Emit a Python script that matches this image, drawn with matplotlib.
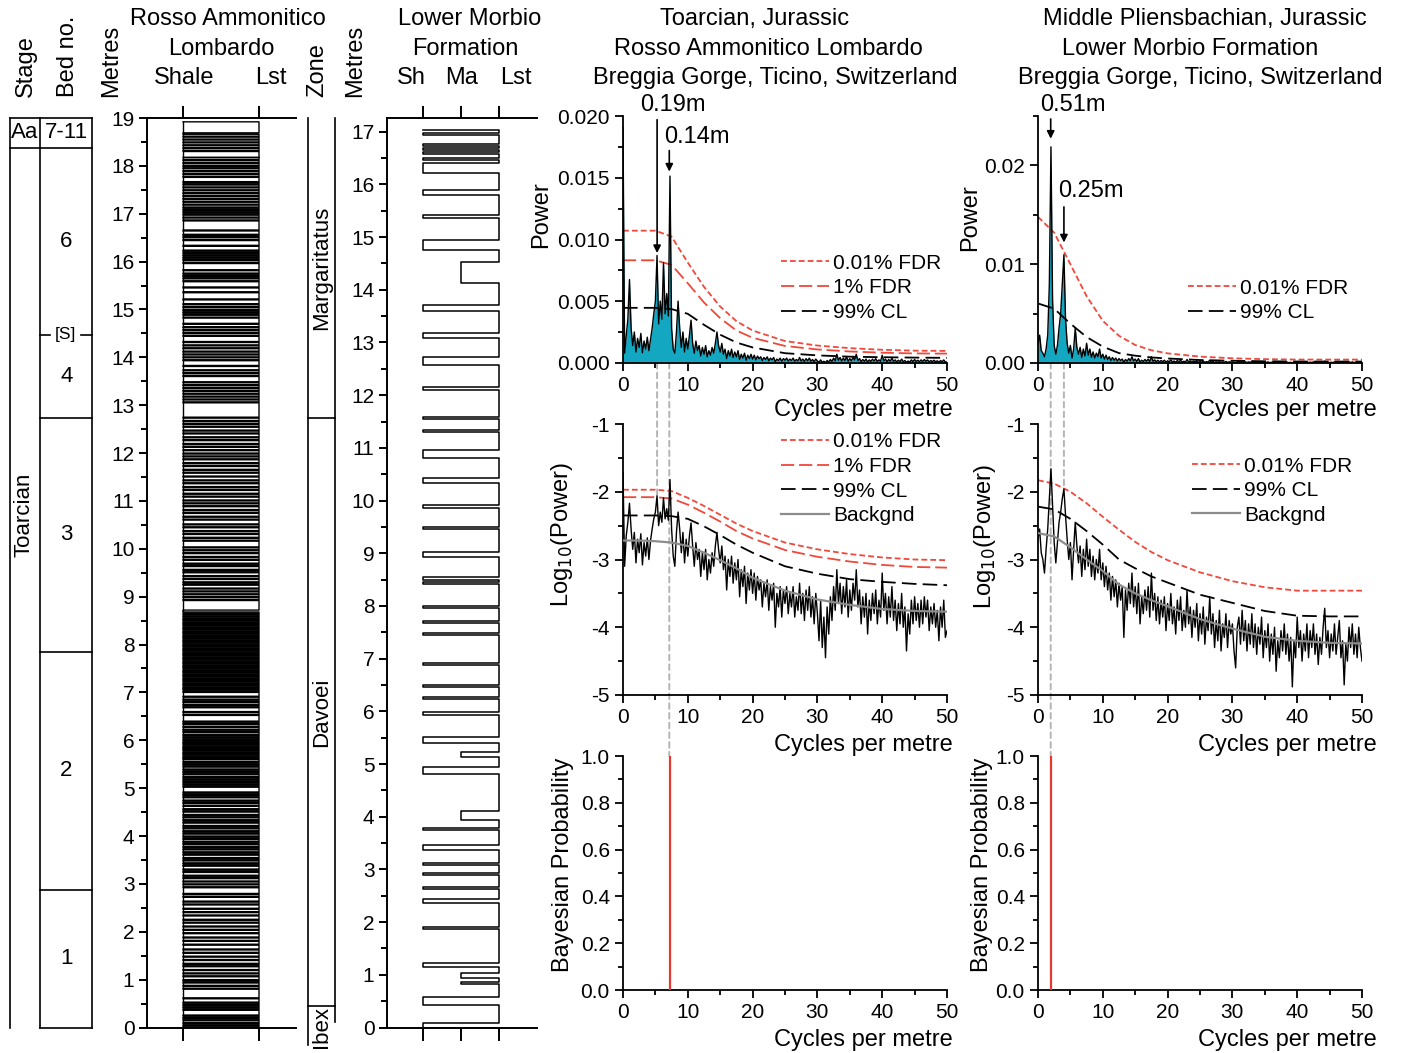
import numpy as np
import matplotlib
matplotlib.use("Agg")
import matplotlib.pyplot as plt
from matplotlib.patches import ConnectionPatch
from matplotlib.ticker import MultipleLocator, FormatStrFormatter

plt.rcParams['font.family'] = ['Liberation Sans', 'DejaVu Sans']
plt.rcParams['axes.unicode_minus'] = False
plt.rcParams['lines.scale_dashes'] = False

# ---------------- data ----------------
# Rosso Ammonitico Lombardo: limestone beds (base, top) in metres, shale in between
ral_beds = [
    (0.00, 0.03), (0.05, 0.08), (0.10, 0.14), (0.16, 0.19), (0.21, 0.24), (0.26, 0.36),
    (0.38, 0.41), (0.43, 0.46), (0.48, 0.51), (0.53, 0.60), (0.62, 0.80), (0.82, 0.86),
    (0.88, 0.93), (0.95, 0.98), (1.00, 1.06), (1.08, 1.12), (1.14, 1.19), (1.21, 1.27),
    (1.29, 1.32), (1.34, 1.40), (1.42, 1.47), (1.49, 1.55), (1.57, 1.62), (1.64, 1.72),
    (1.74, 1.80), (1.82, 1.87), (1.89, 1.96), (1.98, 2.03), (2.05, 2.10), (2.12, 2.18),
    (2.20, 2.24), (2.26, 2.33), (2.35, 2.40), (2.42, 2.47), (2.49, 2.56), (2.58, 2.62),
    (2.64, 2.72), (2.74, 2.78), (2.80, 2.92), (2.94, 2.98), (3.00, 3.04), (3.06, 3.11),
    (3.13, 3.16), (3.18, 3.24), (3.26, 3.29), (3.31, 3.37), (3.39, 3.42), (3.44, 3.48),
    (3.50, 3.53), (3.55, 3.60), (3.62, 3.65), (3.67, 3.71), (3.73, 3.76), (3.78, 3.82),
    (3.84, 3.87), (3.89, 3.93), (3.95, 3.98), (4.00, 4.04), (4.06, 4.09), (4.11, 4.15),
    (4.17, 4.20), (4.22, 4.27), (4.29, 4.32), (4.34, 4.38), (4.40, 4.43), (4.45, 4.50),
    (4.52, 4.55), (4.57, 4.62), (4.64, 4.68), (4.70, 4.73), (4.75, 4.80), (4.82, 4.85),
    (4.87, 4.90), (4.92, 5.02), (5.04, 5.07), (5.09, 5.12), (5.14, 5.17), (5.19, 5.22),
    (5.24, 5.28), (5.30, 5.33), (5.35, 5.38), (5.40, 5.44), (5.46, 5.49), (5.51, 5.54),
    (5.56, 5.60), (5.62, 5.64), (5.66, 5.69), (5.71, 5.73), (5.75, 5.78), (5.80, 5.82),
    (5.84, 5.86), (5.88, 5.91), (5.93, 5.95), (5.97, 6.00), (6.02, 6.05), (6.07, 6.10),
    (6.12, 6.16), (6.18, 6.21), (6.23, 6.27), (6.29, 6.33), (6.35, 6.38), (6.40, 6.52),
    (6.54, 6.58), (6.60, 6.68), (6.70, 6.73), (6.75, 6.79), (6.81, 6.84), (6.86, 6.90),
    (6.92, 7.00), (7.02, 7.05), (7.07, 7.09), (7.11, 7.14), (7.16, 7.18), (7.20, 7.23),
    (7.25, 7.27), (7.29, 7.32), (7.34, 7.36), (7.38, 7.41), (7.43, 7.45), (7.47, 7.50),
    (7.52, 7.54), (7.56, 7.59), (7.61, 7.63), (7.65, 7.68), (7.70, 7.72), (7.74, 7.77),
    (7.79, 7.81), (7.83, 7.86), (7.88, 7.90), (7.92, 7.95), (7.97, 7.99), (8.01, 8.04),
    (8.06, 8.08), (8.10, 8.13), (8.15, 8.17), (8.19, 8.22), (8.24, 8.26), (8.28, 8.31),
    (8.33, 8.35), (8.37, 8.40), (8.42, 8.44), (8.46, 8.49), (8.51, 8.53), (8.55, 8.58),
    (8.60, 8.63), (8.65, 8.68), (8.72, 8.92), (8.94, 8.98), (9.00, 9.04), (9.06, 9.10),
    (9.12, 9.16), (9.18, 9.24), (9.26, 9.29), (9.31, 9.36), (9.38, 9.42), (9.44, 9.50),
    (9.52, 9.55), (9.57, 9.63), (9.65, 9.68), (9.70, 9.76), (9.78, 9.82), (9.84, 9.90),
    (9.92, 9.96), (9.98, 10.02), (10.04, 10.16), (10.18, 10.22), (10.24, 10.30), (10.32, 10.36),
    (10.38, 10.44), (10.46, 10.50), (10.52, 10.60), (10.62, 10.66), (10.68, 10.74), (10.76, 10.80),
    (10.82, 10.88), (10.90, 10.94), (10.96, 11.00), (11.02, 11.08), (11.10, 11.14), (11.16, 11.22),
    (11.24, 11.28), (11.30, 11.36), (11.38, 11.42), (11.44, 11.50), (11.52, 11.58), (11.60, 11.64),
    (11.66, 11.72), (11.74, 11.78), (11.80, 11.86), (11.88, 11.92), (11.94, 11.98), (12.00, 12.05),
    (12.07, 12.12), (12.14, 12.18), (12.20, 12.26), (12.28, 12.32), (12.34, 12.40), (12.42, 12.46),
    (12.48, 12.54), (12.56, 12.60), (12.62, 12.66), (12.68, 12.73), (12.75, 13.05), (13.07, 13.11),
    (13.13, 13.17), (13.19, 13.23), (13.25, 13.29), (13.31, 13.35), (13.37, 13.41), (13.43, 13.47),
    (13.49, 13.60), (13.62, 13.66), (13.68, 13.72), (13.74, 13.81), (13.83, 13.93), (13.95, 13.99),
    (14.01, 14.05), (14.07, 14.11), (14.13, 14.18), (14.20, 14.24), (14.26, 14.31), (14.33, 14.44),
    (14.46, 14.50), (14.52, 14.56), (14.58, 14.62), (14.64, 14.69), (14.71, 14.82), (14.84, 14.88),
    (14.90, 14.93), (14.95, 14.98), (15.00, 15.04), (15.06, 15.10), (15.12, 15.20), (15.22, 15.35),
    (15.37, 15.45), (15.47, 15.58), (15.60, 15.64), (15.66, 15.69), (15.71, 15.74), (15.76, 15.81),
    (15.83, 15.96), (15.98, 16.02), (16.04, 16.07), (16.09, 16.12), (16.14, 16.17), (16.19, 16.22),
    (16.24, 16.32), (16.34, 16.44), (16.46, 16.50), (16.52, 16.55), (16.57, 16.64), (16.66, 16.85),
    (16.87, 16.91), (16.93, 16.97), (16.99, 17.02), (17.04, 17.07), (17.09, 17.12), (17.14, 17.18),
    (17.20, 17.24), (17.26, 17.30), (17.32, 17.36), (17.38, 17.42), (17.44, 17.48), (17.50, 17.54),
    (17.56, 17.60), (17.62, 17.65), (17.67, 17.76), (17.78, 17.82), (17.84, 17.88), (17.90, 17.94),
    (17.96, 17.99), (18.01, 18.05), (18.07, 18.11), (18.13, 18.17), (18.18, 18.30), (18.32, 18.36),
    (18.38, 18.42), (18.44, 18.48), (18.50, 18.54), (18.56, 18.60), (18.62, 18.66), (18.69, 18.92),
]
ral_top = 19.0
bed_names = ['1', '2', '3', '4', '6', '7-11']
bed_base = [0.0, 2.87, 7.85, 12.74, 14.47, 18.38]
s_level = 14.47
stage_names = ['Toarcian', 'Aa']
stage_base = [0.0, 18.38]
stage_label_at = [10.7, 18.69]

# Lower Morbio Formation: shale / marl intervals (base, top, lithology); limestone elsewhere
morbio_breaks = [
    (0.00, 0.08, 'Sh'), (0.43, 0.58, 'Sh'), (0.83, 0.86, 'Ma'), (0.93, 1.03, 'Ma'),
    (1.15, 1.22, 'Sh'), (1.86, 1.90, 'Sh'), (2.36, 2.43, 'Sh'), (2.62, 2.66, 'Sh'),
    (2.90, 2.94, 'Sh'), (3.08, 3.12, 'Sh'), (3.37, 3.46, 'Sh'), (3.74, 3.78, 'Sh'),
    (3.94, 4.10, 'Ma'), (4.82, 4.95, 'Sh'), (5.14, 5.23, 'Ma'), (5.39, 5.52, 'Sh'),
    (5.93, 5.99, 'Sh'), (6.23, 6.27, 'Sh'), (6.46, 6.50, 'Sh'), (6.88, 6.92, 'Sh'),
    (7.45, 7.49, 'Sh'), (7.68, 7.72, 'Sh'), (7.96, 8.00, 'Sh'), (8.41, 8.45, 'Sh'),
    (8.49, 8.55, 'Sh'), (8.93, 9.03, 'Sh'), (9.46, 9.50, 'Sh'), (9.86, 9.91, 'Sh'),
    (10.33, 10.43, 'Sh'), (10.80, 10.96, 'Sh'), (11.30, 11.34, 'Sh'), (11.54, 11.58, 'Sh'),
    (12.10, 12.16, 'Sh'), (12.57, 12.73, 'Sh'), (13.08, 13.18, 'Sh'), (13.59, 13.71, 'Sh'),
    (14.12, 14.52, 'Ma'), (14.75, 14.94, 'Sh'), (15.36, 15.42, 'Sh'), (15.80, 15.89, 'Sh'),
    (16.22, 16.40, 'Sh'), (16.47, 16.50, 'Sh'), (16.58, 16.61, 'Sh'), (16.66, 16.69, 'Sh'),
    (16.73, 16.77, 'Sh'), (16.93, 16.98, 'Sh'),
]
morbio_top = 17.04
morbio_axis_top = 17.26
zone_names = ['Ibex', 'Davoei', 'Margaritatus']
zone_base = [0.0, 0.41, 11.57]

# Spectra: frequency grid (cycles per metre) and log10(power)
freq = np.linspace(0, 50, 201)
spec_toarc = [
    -1.72, -3.10, -2.65, -2.45, -2.17, -2.55, -2.85, -2.60, -3.05, -2.70, -2.90, -2.62,
    -3.08, -2.75, -2.95, -2.68, -3.00, -2.72, -2.55, -2.40, -2.30, -2.06, -2.50, -2.30,
    -2.45, -2.09, -2.40, -2.25, -2.42, -1.82, -2.55, -2.95, -3.10, -2.60, -2.30, -2.55,
    -2.90, -2.60, -3.05, -2.70, -2.95, -2.65, -2.46, -2.80, -3.10, -2.75, -3.00, -2.85,
    -3.25, -2.90, -3.15, -2.85, -3.30, -3.00, -3.20, -2.90, -3.10, -2.80, -2.60, -2.85,
    -3.05, -2.80, -3.15, -2.95, -3.45, -3.00, -3.25, -2.95, -3.35, -3.05, -3.30, -3.00,
    -3.55, -3.15, -3.40, -3.10, -3.65, -3.20, -3.45, -3.15, -3.50, -3.20, -3.60, -3.25,
    -3.45, -3.30, -3.70, -3.35, -3.55, -3.30, -3.75, -3.40, -3.60, -3.35, -4.00, -3.50,
    -3.70, -3.40, -3.85, -3.45, -3.65, -3.40, -3.80, -3.50, -3.70, -3.40, -3.85, -3.55,
    -3.75, -3.35, -3.80, -3.50, -3.90, -3.45, -3.75, -3.40, -3.85, -3.55, -3.95, -3.50,
    -3.80, -4.20, -3.60, -4.30, -3.85, -4.45, -3.70, -4.10, -3.55, -3.90, -3.40, -3.75,
    -3.15, -3.65, -3.35, -3.80, -3.40, -3.70, -3.30, -3.85, -3.45, -3.75, -3.35, -3.60,
    -3.15, -3.70, -3.45, -3.95, -3.55, -3.85, -3.50, -4.10, -3.60, -3.90, -3.50, -3.80,
    -3.45, -3.95, -3.60, -3.85, -3.20, -3.75, -3.50, -3.95, -3.55, -3.85, -3.40, -3.90,
    -3.60, -4.05, -3.65, -3.95, -3.50, -4.00, -3.70, -4.35, -3.80, -4.10, -3.60, -3.95,
    -3.55, -3.90, -3.65, -4.00, -3.60, -3.95, -3.55, -3.85, -3.60, -4.05, -3.70, -3.95,
    -3.65, -4.00, -3.75, -4.20, -3.70, -4.00, -3.60, -4.15, -4.05,
]
spec_plien = [
    -2.70, -2.55, -2.90, -3.00, -3.20, -2.85, -2.55, -2.10, -1.66, -2.20, -2.75, -3.05,
    -2.75, -2.45, -2.30, -2.10, -1.96, -2.35, -2.70, -3.00, -2.75, -3.30, -2.85, -2.45,
    -2.80, -3.05, -2.80, -3.25, -2.85, -3.15, -2.70, -3.10, -2.85, -3.25, -2.95, -3.30,
    -3.00, -3.20, -2.85, -3.30, -3.05, -3.40, -3.10, -3.45, -3.20, -3.60, -3.25, -3.55,
    -3.30, -3.70, -3.35, -3.60, -3.40, -4.15, -3.45, -3.75, -3.35, -3.65, -3.20, -3.70,
    -3.40, -3.80, -3.35, -3.95, -3.55, -3.80, -3.45, -3.75, -3.40, -3.85, -3.20, -3.75,
    -3.50, -3.90, -3.55, -3.95, -3.60, -3.85, -3.55, -4.05, -3.65, -3.90, -3.50, -3.95,
    -3.70, -4.10, -3.60, -3.90, -3.55, -4.05, -3.75, -4.00, -3.45, -3.95, -3.70, -4.15,
    -3.75, -4.00, -3.65, -4.20, -3.80, -4.10, -3.70, -4.25, -3.85, -4.05, -3.55, -4.10,
    -3.80, -4.30, -3.90, -4.20, -3.75, -4.35, -3.95, -4.15, -3.80, -4.30, -3.90, -4.10,
    -3.95, -4.35, -4.60, -4.00, -3.85, -4.25, -3.75, -4.20, -3.90, -4.35, -3.95, -4.25,
    -3.80, -4.30, -3.95, -4.40, -4.00, -4.25, -3.85, -4.45, -4.05, -4.30, -3.95, -4.50,
    -4.10, -4.40, -4.00, -4.65, -4.20, -4.45, -4.05, -4.35, -3.95, -4.40, -4.10, -4.50,
    -4.15, -4.88, -4.20, -4.45, -3.85, -4.30, -4.05, -4.50, -4.10, -4.35, -3.95, -4.45,
    -4.05, -4.30, -3.95, -4.40, -4.10, -4.55, -4.15, -4.40, -4.00, -3.72, -4.30, -4.05,
    -4.45, -4.10, -4.35, -3.95, -4.40, -4.15, -3.90, -4.45, -4.20, -4.85, -4.25, -4.50,
    -4.00, -4.30, -3.95, -4.40, -4.10, -4.45, -4.00, -4.30, -4.50,
]

# significance levels (log10 power) read at these frequencies
lvl_f = [0, 2.5, 5, 7.5, 10, 12.5, 15, 17.5, 20, 25, 30, 35, 40, 45, 50]
toarc_fdr001 = [-1.97, -1.97, -1.97, -1.99, -2.09, -2.21, -2.34, -2.47, -2.58, -2.75, -2.85, -2.92, -2.97, -3.00, -3.01]
toarc_fdr1 = [-2.08, -2.08, -2.08, -2.10, -2.19, -2.31, -2.44, -2.58, -2.69, -2.86, -2.96, -3.03, -3.08, -3.11, -3.12]
toarc_cl99 = [-2.35, -2.35, -2.35, -2.36, -2.40, -2.51, -2.64, -2.78, -2.90, -3.10, -3.21, -3.29, -3.33, -3.36, -3.38]
toarc_bg = [-2.72, -2.72, -2.73, -2.75, -2.80, -2.90, -3.01, -3.13, -3.27, -3.46, -3.59, -3.67, -3.73, -3.76, -3.77]
plien_fdr001 = [-1.83, -1.88, -2.00, -2.17, -2.37, -2.56, -2.74, -2.89, -3.01, -3.19, -3.32, -3.41, -3.46, -3.46, -3.46]
plien_cl99 = [-2.22, -2.26, -2.40, -2.58, -2.78, -3.00, -3.13, -3.25, -3.34, -3.52, -3.64, -3.76, -3.83, -3.84, -3.84]
plien_bg = [-2.61, -2.66, -2.82, -3.00, -3.17, -3.37, -3.50, -3.60, -3.69, -3.88, -4.02, -4.14, -4.20, -4.23, -4.24]

# labelled cycle periods (m), arrow tail / tip (power) and label position
toarc_periods = [0.19, 0.14]
toarc_arrow = [(0.0197, 0.0089), (0.0172, 0.0155)]
toarc_label_xy = [(7.7, 0.0209), (11.4, 0.0183)]
plien_periods = [0.51, 0.25]
plien_arrow = [(0.0247, 0.0227), (0.0158, 0.0122)]
plien_label_xy = [(5.45, 0.0261), (8.1, 0.0174)]

# Bayesian probability spike
toarc_bayes_f, toarc_bayes_p = 7.2, 1.0
plien_bayes_f, plien_bayes_p = 1.96, 1.0

# ---------------- styles ----------------
RED = '#f0483b'
CYAN = '#14a7c2'
GREY_BG = '#8c8c8c'
GREY_DASH = '#b4b4b4'
FS_TICK = 15
FS_LAB = 17
LS_FDR001 = (0, (4.2, 2.2))
LS_FDR1 = (0, (9.5, 3.5))
LS_CL99 = (0, (10.5, 4.5))

W, H = 1403, 1053
fig = plt.figure(figsize=(W / 100, H / 100), dpi=100)


def px_axes(x0, y0, x1, y1):
    return fig.add_axes([x0 / W, 1 - y1 / H, (x1 - x0) / W, (y1 - y0) / H])


def ftext(x, y, s, **kw):
    kw.setdefault('fontsize', FS_LAB)
    kw.setdefault('ha', 'center')
    kw.setdefault('va', 'center')
    fig.text(x / W, 1 - y / H, s, **kw)


# ---------------- headers ----------------
for x, s in [(26, 'Stage'), (68, 'Bed no.'), (111, 'Metres'), (317, 'Zone'), (355, 'Metres')]:
    ftext(x, 97, s, rotation=90, va='bottom')
ftext(228, 19, 'Rosso Ammonitico')
ftext(221, 49, 'Lombardo')
ftext(184, 78, 'Shale')
ftext(271, 78, 'Lst')
ftext(470, 19, 'Lower Morbio')
ftext(465, 49, 'Formation')
ftext(411, 78, 'Sh')
ftext(462, 78, 'Ma')
ftext(516, 78, 'Lst')
ftext(755, 19, 'Toarcian, Jurassic')
ftext(768, 49, 'Rosso Ammonitico Lombardo')
ftext(775, 78, 'Breggia Gorge, Ticino, Switzerland')
ftext(1205, 19, 'Middle Pliensbachian, Jurassic')
ftext(1190, 49, 'Lower Morbio Formation')
ftext(1200, 78, 'Breggia Gorge, Ticino, Switzerland')

# ---------------- stage and bed columns ----------------
ax_sb = px_axes(0, 118, 100, 1027.5)
ax_sb.set_xlim(0, 100)
ax_sb.set_ylim(0, ral_top)
ax_sb.axis('off')
XS0, XS1, XB1 = 9.5, 39.5, 91.5
kw_line = dict(color='k', lw=1.2, clip_on=False)
ax_sb.plot([XS0, XS0], [0, ral_top], **kw_line)
ax_sb.plot([XS1, XS1], [0, ral_top], **kw_line)
ax_sb.plot([XB1, XB1], [0, ral_top], **kw_line)
ax_sb.plot([XS0, XB1], [ral_top, ral_top], **kw_line)
ax_sb.plot([XS1, XB1], [0, 0], **kw_line)
ax_sb.plot([XS0, XB1], [stage_base[1], stage_base[1]], **kw_line)
for name, y in zip(stage_names, stage_label_at):
    ax_sb.text((XS0 + XS1) / 2, y, name, ha='center', va='center', fontsize=16,
               rotation=90 if name == 'Toarcian' else 0)
bed_tops = bed_base[1:] + [ral_top]
for name, b, t in zip(bed_names, bed_base, bed_tops):
    if b > 0 and b != s_level and b != stage_base[1]:
        ax_sb.plot([XS1, XB1], [b, b], **kw_line)
    ax_sb.text((XS1 + XB1) / 2 + 1, (b + t) / 2, name, ha='center', va='center', fontsize=16)
ax_sb.plot([XS1, XS1 + 10], [s_level, s_level], **kw_line)
ax_sb.plot([XB1 - 11, XB1], [s_level, s_level], **kw_line)
ax_sb.text((XS1 + XB1) / 2, s_level, '[S]', ha='center', va='center', fontsize=12.5)

# ---------------- Rosso Ammonitico Lombardo log ----------------
ax_ral = px_axes(147, 118, 296, 1027.5)
SHALE, LST = 0.0, 1.0
xs, ys = [SHALE], [0.0]
for b, t in ral_beds:
    xs += [SHALE, LST, LST, SHALE]
    ys += [b, b, t, t]
ax_ral.plot(xs, ys, color='k', lw=1.0)
ax_ral.plot([SHALE, SHALE], [0, ral_beds[-1][1]], color='k', lw=1.0)
ax_ral.set_xlim(-0.474, 1.487)
ax_ral.set_ylim(0, ral_top)
ax_ral.spines['right'].set_visible(False)
for s in ['left', 'top', 'bottom']:
    ax_ral.spines[s].set_linewidth(1.4)
ax_ral.set_xticks([SHALE, LST])
ax_ral.tick_params(axis='x', top=True, bottom=True, direction='out', length=9, width=1.4,
                   labelbottom=False, labeltop=False)
ax_ral.yaxis.set_major_locator(MultipleLocator(1))
ax_ral.yaxis.set_minor_locator(MultipleLocator(0.5))
ax_ral.tick_params(axis='y', which='major', direction='out', length=6, width=1.4,
                   labelsize=FS_TICK, pad=3)
ax_ral.tick_params(axis='y', which='minor', direction='out', length=4, width=1.4)

# ---------------- zone column ----------------
ax_z = px_axes(300, 118, 340, 1027.5)
ax_z.set_xlim(300, 340)
ax_z.set_ylim(0, morbio_axis_top)
ax_z.axis('off')
XZ0, XZ1 = 307.5, 334.5
ax_z.plot([XZ0, XZ0], [-0.33, morbio_axis_top], **kw_line)
ax_z.plot([XZ1, XZ1], [0.1, morbio_axis_top], **kw_line)
zone_tops = zone_base[1:] + [morbio_axis_top]
for name, b, t in zip(zone_names, zone_base, zone_tops):
    if b > 0:
        ax_z.plot([XZ0, XZ1], [b, b], **kw_line)
    if name == 'Ibex':
        ax_z.text((XZ0 + XZ1) / 2 + 0.5, zone_base[1], name, rotation=90, ha='center', va='top',
                  fontsize=16, clip_on=False)
    else:
        ax_z.text((XZ0 + XZ1) / 2 + 0.5, (b + t) / 2, name, rotation=90, ha='center',
                  va='center', fontsize=16)

# ---------------- Lower Morbio log ----------------
ax_lm = px_axes(387, 118, 537, 1027.5)
LITHO_X = {'Sh': 0.0, 'Ma': 1.0, 'Lst': 2.0}
xs, ys = [LITHO_X['Lst']], [0.0]
for b, t, lith in morbio_breaks:
    xl = LITHO_X[lith]
    xs += [LITHO_X['Lst'], xl, xl, LITHO_X['Lst']]
    ys += [b, b, t, t]
xs += [LITHO_X['Lst'], LITHO_X['Sh']]
ys += [morbio_top, morbio_top]
ax_lm.plot(xs, ys, color='k', lw=1.1)
ax_lm.set_xlim(-0.955, 3.02)
ax_lm.set_ylim(0, morbio_axis_top)
ax_lm.spines['right'].set_visible(False)
for s in ['left', 'top', 'bottom']:
    ax_lm.spines[s].set_linewidth(1.4)
ax_lm.set_xticks(list(LITHO_X.values()))
ax_lm.tick_params(axis='x', top=True, bottom=True, direction='out', length=9, width=1.4,
                  labelbottom=False, labeltop=False)
ax_lm.yaxis.set_major_locator(MultipleLocator(1))
ax_lm.yaxis.set_minor_locator(MultipleLocator(0.5))
ax_lm.tick_params(axis='y', which='major', direction='out', length=6, width=1.4,
                  labelsize=FS_TICK, pad=3)
ax_lm.tick_params(axis='y', which='minor', direction='out', length=4, width=1.4)


# ---------------- spectra ----------------
def style_spec(ax, ylim, major, minor, fmt):
    ax.set_xlim(0, 50)
    ax.set_ylim(*ylim)
    ax.patch.set_alpha(0)
    for s in ['top', 'right']:
        ax.spines[s].set_visible(False)
    for s in ['left', 'bottom']:
        ax.spines[s].set_linewidth(1.3)
    ax.xaxis.set_major_locator(MultipleLocator(10))
    ax.xaxis.set_minor_locator(MultipleLocator(5))
    ax.yaxis.set_major_locator(MultipleLocator(major))
    ax.yaxis.set_minor_locator(MultipleLocator(minor))
    ax.yaxis.set_major_formatter(FormatStrFormatter(fmt))
    ax.tick_params(which='major', direction='out', length=5.5, width=1.3, labelsize=FS_TICK, pad=4)
    ax.tick_params(which='minor', direction='out', length=3.5, width=1.3)


def set_labels(ax, ylab, ylx, yly, xlx, xly):
    ax.set_ylabel(ylab, fontsize=FS_LAB, va='center')
    ax.yaxis.set_label_coords(ylx, yly)
    ax.set_xlabel('Cycles per metre', fontsize=FS_LAB, ha='right', va='center')
    ax.xaxis.set_label_coords(xlx, xly)


XL0, XL1, XR0, XR1 = 623, 947, 1038, 1362
ax_tl = px_axes(XL0, 116, XL1, 363)
ax_tr = px_axes(XR0, 116, XR1, 363)
ax_ml = px_axes(XL0, 424, XL1, 695)
ax_mr = px_axes(XR0, 424, XR1, 695)
ax_bl = px_axes(XL0, 756, XL1, 990)
ax_br = px_axes(XR0, 756, XR1, 990)

lvl = lambda a: 10 ** np.asarray(a)

# top: linear power
for ax, spec, levels in [
    (ax_tl, spec_toarc, [(toarc_fdr001, RED, LS_FDR001, '0.01% FDR'),
                         (toarc_fdr1, RED, LS_FDR1, '1% FDR'),
                         (toarc_cl99, 'k', LS_CL99, '99% CL')]),
    (ax_tr, spec_plien, [(plien_fdr001, RED, LS_FDR001, '0.01% FDR'),
                         (plien_cl99, 'k', LS_CL99, '99% CL')]),
]:
    p = lvl(spec)
    ax.fill_between(freq, 0, p, color=CYAN, lw=0, zorder=1)
    ax.plot(freq, p, color='k', lw=1.0, zorder=3)
    for vals, c, ls, lab in levels:
        ax.plot(lvl_f, lvl(vals), color=c, ls=ls, lw=1.3, label=lab, zorder=2)

style_spec(ax_tl, (0, 0.020), 0.005, 0.0025, '%.3f')
style_spec(ax_tr, (0, 0.025), 0.01, 0.005, '%.2f')
ax_tr.set_yticks([0, 0.01, 0.02])
set_labels(ax_tl, 'Power', -0.253, 0.60, 1.019, -0.19)
set_labels(ax_tr, 'Power', -0.21, 0.587, 1.046, -0.19)

# middle: log10 power
for ax, spec, levels in [
    (ax_ml, spec_toarc, [(toarc_fdr001, RED, LS_FDR001, '0.01% FDR'),
                         (toarc_fdr1, RED, LS_FDR1, '1% FDR'),
                         (toarc_cl99, 'k', LS_CL99, '99% CL'),
                         (toarc_bg, GREY_BG, '-', 'Backgnd')]),
    (ax_mr, spec_plien, [(plien_fdr001, RED, LS_FDR001, '0.01% FDR'),
                         (plien_cl99, 'k', LS_CL99, '99% CL'),
                         (plien_bg, GREY_BG, '-', 'Backgnd')]),
]:
    ax.plot(freq, spec, color='k', lw=1.0, zorder=3)
    for vals, c, ls, lab in levels:
        ax.plot(lvl_f, vals, color=c, ls=ls, lw=1.6 if ls == '-' else 1.3, label=lab,
                zorder=4 if ls == '-' else 2)

style_spec(ax_ml, (-5, -1), 1, 0.5, '%d')
style_spec(ax_mr, (-5, -1), 1, 0.5, '%d')
set_labels(ax_ml, 'Log$_{10}$(Power)', -0.188, 0.59, 1.019, -0.185)
set_labels(ax_mr, 'Log$_{10}$(Power)', -0.164, 0.583, 1.046, -0.185)

# legends
for ax, bx, by in [(ax_tl, 0.488, 0.443), (ax_tr, 0.463, 0.342),
                   (ax_ml, 0.488, 0.969), (ax_mr, 0.475, 0.880)]:
    ax.legend(loc='upper left', bbox_to_anchor=(bx, by), frameon=False, fontsize=FS_TICK,
              handlelength=2.3, handletextpad=0.2, labelspacing=0.27, borderpad=0,
              borderaxespad=0)

# bottom: Bayesian probability
for ax, f, p in [(ax_bl, toarc_bayes_f, toarc_bayes_p), (ax_br, plien_bayes_f, plien_bayes_p)]:
    ax.vlines(f, 0, p, color='#e63a30', lw=1.6, zorder=3)
    style_spec(ax, (0, 1.0), 0.2, 0.1, '%.1f')
set_labels(ax_bl, 'Bayesian Probability', -0.185, 0.534, 1.019, -0.214)
set_labels(ax_br, 'Bayesian Probability', -0.173, 0.534, 1.046, -0.214)

# arrows with cycle periods
for ax, periods, arrows, labxy in [(ax_tl, toarc_periods, toarc_arrow, toarc_label_xy),
                                   (ax_tr, plien_periods, plien_arrow, plien_label_xy)]:
    for per, (tail, tip), (lx, ly) in zip(periods, arrows, labxy):
        ax.annotate('', xy=(1 / per, tip), xytext=(1 / per, tail), annotation_clip=False,
                    arrowprops=dict(arrowstyle='-|>', color='k', lw=1.2, mutation_scale=11,
                                    shrinkA=0, shrinkB=0))
        ax.text(lx, ly, f'{per:.2f}m', ha='center', va='center', fontsize=FS_LAB, clip_on=False)

# grey dashed guides linking the panels
for per, ax_a, ax_mid, ax_bot, spec, to_bottom in [
    (toarc_periods[0], ax_tl, ax_ml, ax_bl, spec_toarc, False),
    (toarc_periods[1], ax_tl, ax_ml, ax_bl, spec_toarc, True),
    (plien_periods[0], ax_tr, ax_mr, ax_br, spec_plien, True),
    (plien_periods[1], ax_tr, ax_mr, ax_br, spec_plien, False),
]:
    f = 1 / per
    if to_bottom:
        end_ax, end_y = ax_bot, 1.0
    else:
        end_ax, end_y = ax_mid, float(np.interp(f, freq, spec))
    con = ConnectionPatch(xyA=(f, 0), coordsA='data', axesA=ax_a,
                          xyB=(f, end_y), coordsB='data', axesB=end_ax,
                          color=GREY_DASH, lw=1.4, linestyle=(0, (4, 3)))
    con.set_zorder(-1)
    fig.add_artist(con)

fig.savefig('out.png', dpi=100)
